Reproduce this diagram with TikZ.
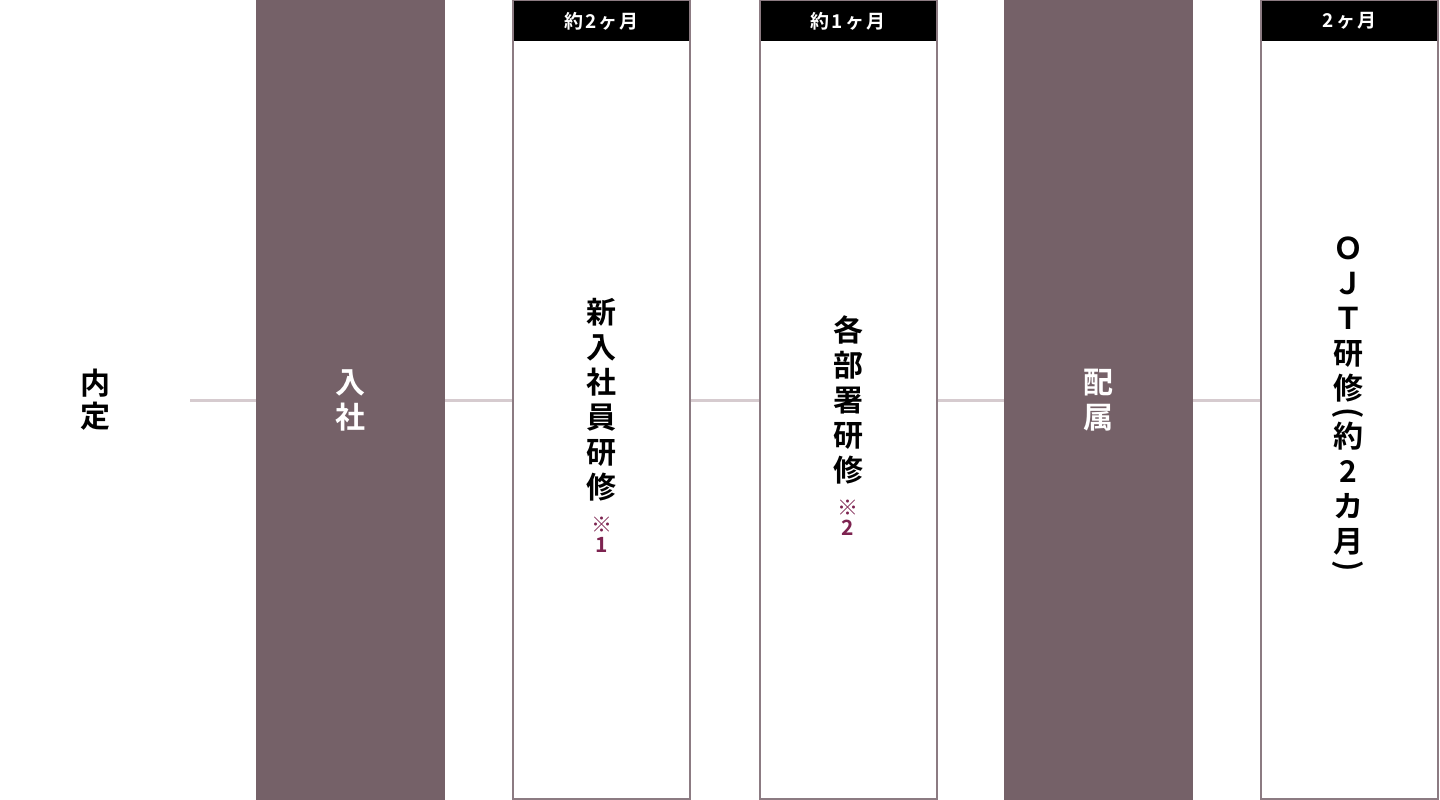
\documentclass[tikz,border=0pt]{standalone}
\usepackage{fontspec}
\setmainfont{Noto Sans CJK JP}[BoldFont={Noto Sans CJK JP Bold}]
\definecolor{darkbox}{HTML}{756168}
\definecolor{boxline}{HTML}{8C7B82}
\definecolor{connline}{HTML}{D6CBCF}
\definecolor{notecol}{HTML}{7D2350}
\newcommand{\topparen}{\rotatebox{-90}{(}}
\newcommand{\botparen}{\rotatebox{-90}{)}}
\newcommand{\hsp}{\hspace{2pt}}
\begin{document}
\begin{tikzpicture}[x=1pt,y=-1pt,
  darkstage/.style={rectangle, fill=darkbox, draw=none, minimum width=189pt, minimum height=800pt, inner sep=0pt},
  whitestage/.style={rectangle, draw=boxline, line width=2pt, fill=none, minimum width=177pt, minimum height=798pt, inner sep=0pt},
  headbar/.style={rectangle, fill=black, text=white, minimum width=175pt, minimum height=40pt, inner sep=0pt, anchor=north, font=\bfseries\fontsize{19}{22}\selectfont},
  vlabel/.style={align=center, inner sep=0pt, font=\bfseries\fontsize{30}{35}\selectfont},
  notelabel/.style={align=center, inner sep=0pt, text=notecol, anchor=north, font=\bfseries\fontsize{21}{20}\selectfont},
  connector/.style={draw=connline, line width=3pt}
]
\useasboundingbox (0,0) rectangle (1440,800);
% stages
\node[vlabel, minimum width=190pt] (naitei) at (95,400) {内\\[-2pt]定};
\node[darkstage] (nyusha) at (350.5,400) {};
\node[whitestage] (kenshu) at (601.5,400) {};
\node[headbar] (kenshuhead) at ([yshift=-1pt]kenshu.north) {約\hsp 2\hsp ヶ\hsp 月};
\node[whitestage] (busho) at (848,400) {};
\node[headbar] (bushohead) at ([yshift=-1pt]busho.north) {約\hsp 1\hsp ヶ\hsp 月};
\node[darkstage] (haizoku) at (1098.5,400) {};
\node[whitestage] (ojt) at (1349.5,400) {};
\node[headbar] (ojthead) at ([yshift=-1pt]ojt.north) {2\hsp ヶ\hsp 月};
% labels
\node[vlabel, text=white] (nyushatext) at (nyusha.center) {入\\社};
\node[vlabel] (kenshutext) at (kenshu.center) {新\\入\\社\\員\\研\\修};
\node[notelabel] (kenshunote) at ([yshift=-15pt]kenshutext.south) {※\\1};
\node[vlabel] (bushotext) at (busho.center) {各\\部\\署\\研\\修};
\node[notelabel] (bushonote) at ([yshift=-15pt]bushotext.south) {※\\2};
\node[vlabel, text=white] (haizokutext) at (haizoku.center) {配\\属};
\node[vlabel, anchor=north] (ojttext) at (1348,237) {Ｏ\\Ｊ\\Ｔ\\研\\修\\[-27pt]\topparen\\[2pt]約\\2\\カ\\月\\[-27pt]\botparen};
% connectors
\draw[connector] (naitei.east) -- (nyusha.west);
\draw[connector] (nyusha.east) -- (kenshu.west);
\draw[connector] (kenshu.east) -- (busho.west);
\draw[connector] (busho.east) -- (haizoku.west);
\draw[connector] (haizoku.east) -- (ojt.west);
\end{tikzpicture}
\end{document}
